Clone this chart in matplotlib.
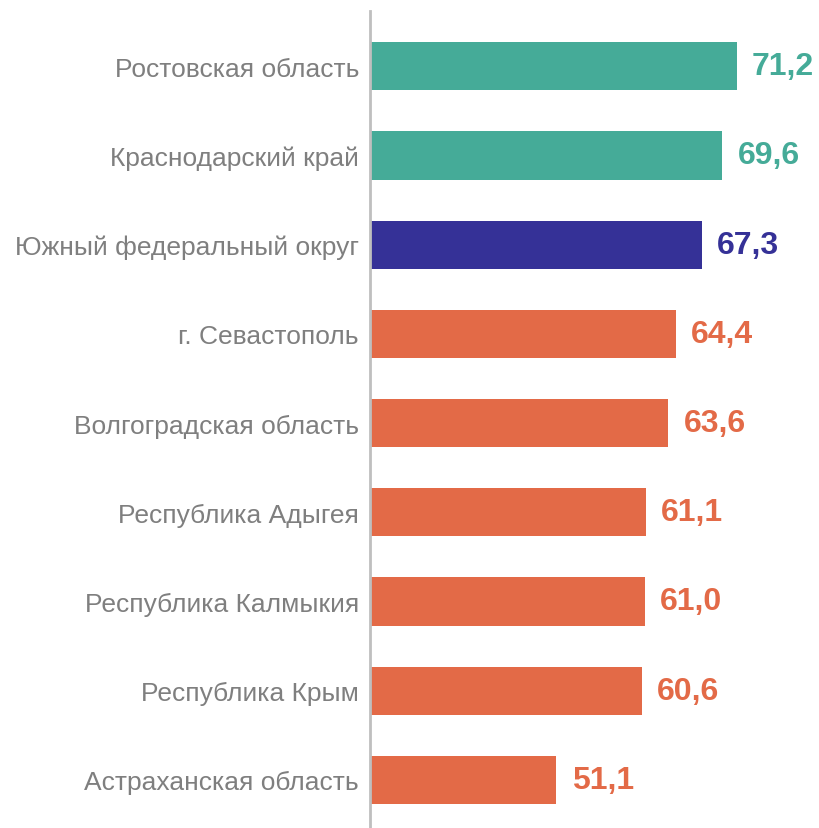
import matplotlib
matplotlib.use("Agg")
import matplotlib.pyplot as plt

plt.rcParams['font.family'] = ['Liberation Sans', 'DejaVu Sans']

regions = ["Ростовская область", "Краснодарский край", "Южный федеральный округ",
           "г. Севастополь", "Волгоградская область", "Республика Адыгея",
           "Республика Калмыкия", "Республика Крым", "Астраханская область"]
values = [71.2, 69.6, 67.3, 64.4, 63.6, 61.1, 61.0, 60.6, 51.1]
groups = ["top", "top", "district", "low", "low", "low", "low", "low", "low"]

palette = {"top": "#45ab98", "district": "#353197", "low": "#e36a47"}
colors = [palette[g] for g in groups]

fig = plt.figure(figsize=(8.2, 8.29), dpi=100)
ax = fig.add_axes([370 / 820, 0.0, (810 - 370) / 820, (829 - 12) / 829])

pos = list(range(len(values)))
ax.barh(pos, values, height=0.54, color=colors, left=0)
ax.set_xlim(30.3, 79.4)
ax.set_ylim(len(values) - 0.46, -0.62)

for p, v, c in zip(pos, values, colors):
    ax.text(v + 1.7, p, f"{v:.1f}".replace(".", ","), va="center", ha="left",
            fontsize=23, fontweight="bold", color=c)

ax.set_yticks(pos)
ax.set_yticklabels(regions, fontsize=19, color="#7f7f7f")
ax.tick_params(axis="y", length=0, pad=8)
ax.set_xticks([])
for s in ["top", "right", "bottom"]:
    ax.spines[s].set_visible(False)
ax.spines["left"].set_color("#bfbfbf")
ax.spines["left"].set_linewidth(2)

fig.savefig("out.png", dpi=100)
